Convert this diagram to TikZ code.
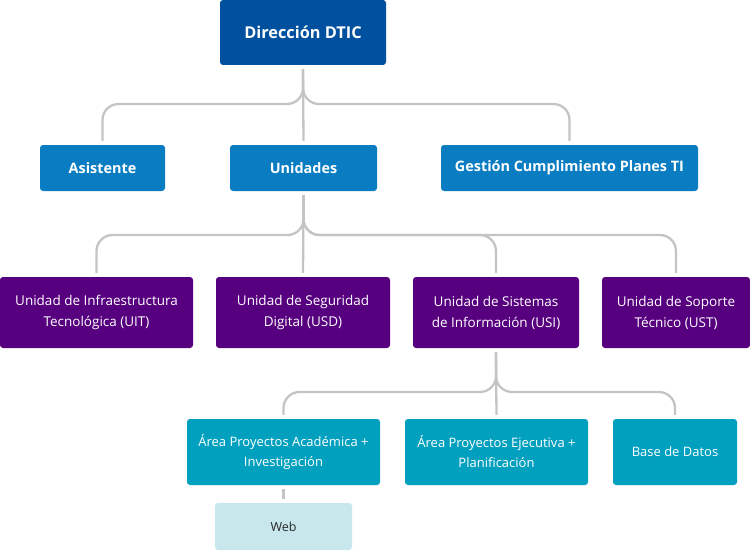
\documentclass[tikz,border=0pt]{standalone}
\usepackage{fontspec}
\setmainfont{Open Sans}
\definecolor{dticblue}{HTML}{0050A0}
\definecolor{areablue}{HTML}{0A7DC2}
\definecolor{unitpurple}{HTML}{57007F}
\definecolor{teamteal}{HTML}{00A0BE}
\definecolor{weblight}{HTML}{C8E7EC}
\definecolor{linkgray}{HTML}{C4C4C4}
\begin{document}
\begin{tikzpicture}[
  x=1pt, y=-1pt,
  box/.style={rectangle, rounded corners=3pt, draw=none, inner sep=0pt, align=center, text=white},
  top/.style={box, fill=dticblue, font=\fontsize{16.3}{19}\selectfont\bfseries},
  area/.style={box, fill=areablue, minimum height=46pt, font=\fontsize{14.4}{17}\selectfont\bfseries},
  unit/.style={box, fill=unitpurple, minimum height=71pt, font=\fontsize{13.5}{21}\selectfont},
  team/.style={box, fill=teamteal, minimum height=66pt, font=\fontsize{13}{20}\selectfont},
  sub/.style={box, fill=weblight, text=black!85, minimum height=47pt, font=\fontsize{12.5}{20}\selectfont},
  link/.style={draw=linkgray, line width=2.3pt, rounded corners=16pt, shorten >=4pt, shorten <=4pt}
]
\useasboundingbox (0,0) rectangle (750,551);
\node[top, minimum width=166pt, minimum height=65pt] (dir) at (303,32.5) {Dirección DTIC};

\node[area, minimum width=125pt] (asis) at (102.5,168) {Asistente};
\node[area, minimum width=147pt] (unid) at (303.5,168) {Unidades};
\node[area, minimum width=257pt] (gest) at (569.5,168) {Gestión Cumplimiento Planes TI};

\node[unit, minimum width=193pt] (uit) at (96.5,312.5) {Unidad de Infraestructura\\Tecnológica (UIT)};
\node[unit, minimum width=174pt] (usd) at (303,312.5) {Unidad de Seguridad\\Digital (USD)};
\node[unit, minimum width=166pt] (usi) at (496,312.5) {Unidad de Sistemas\\de Información (USI)};
\node[unit, minimum width=148pt] (ust) at (676,312.5) {Unidad de Soporte\\Técnico (UST)};

\node[team, minimum width=193pt] (acad) at (283.5,452) {Área Proyectos Académica +\\Investigación};
\node[team, minimum width=183pt] (ejec) at (496.5,452) {Área Proyectos Ejecutiva +\\Planificación};
\node[team, minimum width=124pt] (bd) at (675,452) {Base de Datos};

\node[sub, minimum width=137pt] (web) at (283.5,526.5) {Web};

\coordinate (bus1) at (0,104);
\coordinate (bus2) at (0,235);
\coordinate (bus3) at (0,392);

\draw[link] (dir.south) -- (dir.south |- bus1) -| (asis.north);
\draw[link] (dir.south) -- (dir.south |- bus1) -| (gest.north);
\draw[link] (dir.south) -- (unid.north);

\draw[link] (unid.south) -- (unid.south |- bus2) -| (uit.north);
\draw[link] (unid.south) -- (unid.south |- bus2) -| (usi.north);
\draw[link] (unid.south) -- (unid.south |- bus2) -| (ust.north);
\draw[link] (unid.south) -- (usd.north);

\draw[link] (usi.south) -- (usi.south |- bus3) -| (acad.north);
\draw[link] (usi.south) -- (usi.south |- bus3) -| (bd.north);
\draw[link] (usi.south) -- (ejec.north);

\draw[link] (acad.south) -- (web.north);
\end{tikzpicture}
\end{document}
